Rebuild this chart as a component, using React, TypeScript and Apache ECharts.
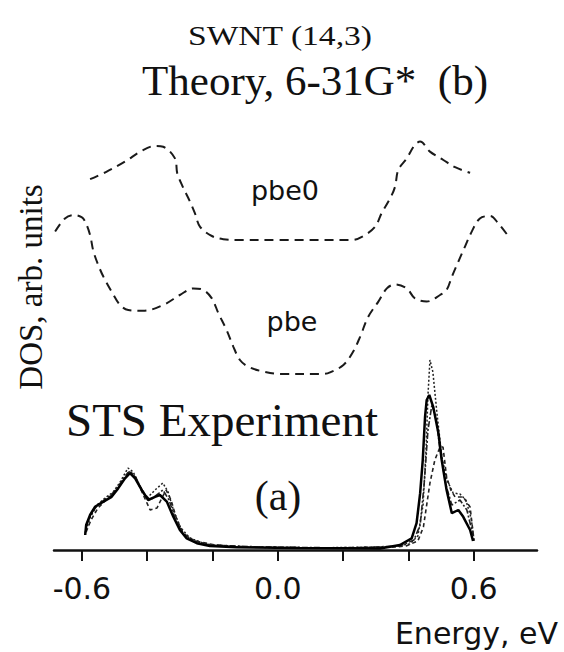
import React, { useEffect, useRef } from "react";
import * as echarts from "echarts";

// ---- Data (energy in eV, DOS in arbitrary units) ----
const xTicks = [-0.6, -0.4, -0.2, 0.0, 0.2, 0.4, 0.6];
const xTickLabels = [-0.6, 0.0, 0.6];

const pbe0Energy = [-0.575, -0.524, -0.468, -0.417, -0.376, -0.351, -0.315, -0.308, -0.291, -0.269, -0.254, -0.238, -0.202, -0.167, -0.116, 0.0, 0.226, 0.262, 0.298, 0.318, 0.344, 0.359, 0.369, 0.395, 0.420, 0.436, 0.466, 0.507, 0.543, 0.589];
const pbe0Dos = [92.7, 94.6, 97.1, 99.8, 101.0, 100.8, 97.9, 94.2, 90.8, 87.1, 84.2, 80.8, 78.5, 77.7, 77.5, 77.5, 77.5, 78.5, 80.8, 84.2, 87.9, 90.8, 95.0, 97.9, 101.3, 102.1, 99.6, 97.5, 95.7, 94.3];

const pbeEnergy = [-0.682, -0.652, -0.626, -0.601, -0.590, -0.575, -0.565, -0.550, -0.534, -0.509, -0.483, -0.458, -0.412, -0.351, -0.300, -0.259, -0.228, -0.202, -0.182, -0.157, -0.136, -0.116, -0.090, -0.044, 0.007, 0.138, 0.160, 0.201, 0.231, 0.252, 0.277, 0.308, 0.334, 0.359, 0.395, 0.420, 0.456, 0.497, 0.517, 0.533, 0.553, 0.573, 0.594, 0.619, 0.650, 0.675, 0.711];
const pbeDos = [79.6, 82.9, 83.75, 83.2, 82.1, 78.75, 74.75, 71.25, 68.3, 64.6, 61.25, 60.0, 59.8, 61.25, 63.75, 65.4, 65.0, 62.9, 59.2, 55.0, 50.8, 47.5, 45.8, 44.6, 44.0, 44.0, 44.4, 46.25, 49.6, 53.3, 58.3, 62.1, 65.4, 66.4, 65.4, 62.9, 62.1, 63.75, 65.0, 68.3, 72.1, 75.8, 79.6, 82.9, 83.5, 81.7, 77.9];

const sts1Energy = [-0.590, -0.587, -0.575, -0.560, -0.534, -0.509, -0.489, -0.468, -0.453, -0.437, -0.417, -0.397, -0.376, -0.361, -0.340, -0.320, -0.300, -0.279, -0.248, -0.208, -0.126, 0.068, 0.313, 0.374, 0.410, 0.425, 0.436, 0.444, 0.451, 0.456, 0.464, 0.476, 0.492, 0.502, 0.517, 0.533, 0.553, 0.568, 0.589, 0.598];
const sts1Dos = [3.75, 6.25, 8.75, 10.8, 12.1, 13.3, 15.4, 17.9, 19.2, 17.9, 15.0, 12.5, 13.3, 13.75, 12.1, 8.3, 5.0, 2.9, 1.7, 1.0, 0.7, 0.5, 0.4, 1.25, 2.9, 6.7, 14.2, 22.5, 33.3, 37.5, 38.75, 35.8, 29.2, 22.5, 15.0, 9.2, 10.0, 8.3, 5.0, 2.25];

const sts2Energy = [-0.587, -0.575, -0.554, -0.529, -0.504, -0.483, -0.459, -0.443, -0.422, -0.400, -0.376, -0.352, -0.336, -0.318, -0.297, -0.269, -0.223, -0.116, 0.068, 0.343, 0.404, 0.429, 0.445, 0.454, 0.460, 0.466, 0.475, 0.488, 0.503, 0.518, 0.537, 0.558, 0.576, 0.592, 0.601];
const sts2Dos = [5.0, 8.0, 11.25, 13.0, 14.5, 17.0, 20.5, 19.5, 16.0, 13.0, 15.0, 16.75, 14.5, 9.5, 5.5, 3.0, 1.5, 0.75, 0.5, 0.75, 1.5, 3.5, 11.25, 25.0, 38.75, 47.5, 44.5, 33.75, 23.0, 17.5, 14.25, 14.0, 12.5, 8.0, 2.5];

const sts3Energy = [-0.587, -0.572, -0.551, -0.526, -0.502, -0.480, -0.456, -0.437, -0.416, -0.391, -0.370, -0.355, -0.342, -0.327, -0.309, -0.288, -0.254, -0.192, -0.085, 0.129, 0.359, 0.393, 0.429, 0.446, 0.466, 0.481, 0.497, 0.506, 0.517, 0.530, 0.543, 0.568, 0.589, 0.601];
const sts3Dos = [4.5, 7.5, 10.5, 12.5, 14.25, 16.5, 19.75, 18.5, 14.5, 10.0, 10.5, 13.0, 15.0, 12.5, 7.5, 4.0, 2.25, 1.25, 0.75, 0.5, 0.75, 1.0, 2.25, 5.75, 16.75, 22.5, 25.75, 25.75, 18.25, 15.0, 13.25, 13.25, 10.75, 2.25];

const sts4Energy = [-0.590, -0.578, -0.557, -0.532, -0.508, -0.486, -0.465, -0.453, -0.434, -0.413, -0.391, -0.367, -0.352, -0.333, -0.315, -0.294, -0.263, -0.208, -0.054, 0.221, 0.374, 0.417, 0.436, 0.448, 0.460, 0.472, 0.485, 0.497, 0.515, 0.533, 0.558, 0.579, 0.598];
const sts4Dos = [4.25, 8.0, 10.75, 12.5, 14.0, 16.25, 18.75, 19.75, 18.0, 14.5, 12.5, 14.0, 15.0, 12.5, 8.0, 4.5, 2.5, 1.25, 0.75, 0.5, 1.0, 2.5, 6.25, 16.25, 30.0, 36.25, 33.0, 25.0, 16.25, 11.25, 12.5, 10.0, 3.75];

const zip = (xs: number[], ys: number[]) => xs.map((x, i) => [x, ys[i]]);

const SERIF = "'Liberation Serif', 'Times New Roman', serif";
const SANS = "'DejaVu Sans', 'Liberation Sans', sans-serif";
const INK = "#111";

export default function App() {
  const ref = useRef<HTMLDivElement>(null);

  useEffect(() => {
    if (!ref.current) return;
    const chart = echarts.init(ref.current, undefined, { renderer: "svg" });

    const theoryStyle = (dash: number[]) => ({
      color: "#1a1a1a",
      width: 2,
      type: dash,
    });

    const label = (
      text: string,
      x: number,
      y: number,
      fontSize: number,
      fontFamily: string,
      extra: Record<string, unknown> = {},
      align = "center"
    ) => ({
      type: "text",
      x,
      y,
      ...extra,
      style: {
        text,
        fontSize,
        fontFamily,
        fill: INK,
        textAlign: align,
        textVerticalAlign: "middle",
      },
    });

    chart.setOption({
      animation: false,
      backgroundColor: "#ffffff",
      grid: {
        left: 54,
        right: 27,
        top: 110,
        bottom: 102,
        containLabel: false,
        outerBoundsMode: "none",
      },
      xAxis: {
        type: "value",
        min: -0.6855,
        max: 0.7939,
        splitLine: { show: false },
        axisLine: { show: true, onZero: false, lineStyle: { color: INK, width: 2.5 } },
        axisTick: {
          show: true,
          customValues: xTicks,
          length: 11,
          inside: false,
          lineStyle: { color: INK, width: 2 },
        },
        axisLabel: {
          show: true,
          customValues: xTickLabels,
          formatter: (v: number) => v.toFixed(1),
          fontSize: 30,
          fontFamily: SANS,
          color: INK,
          margin: 23,
        },
      },
      yAxis: {
        type: "value",
        min: 0,
        max: 110,
        show: false,
        splitLine: { show: false },
      },
      series: [
        {
          name: "pbe0",
          type: "line",
          data: zip(pbe0Energy, pbe0Dos),
          showSymbol: false,
          smooth: 0.35,
          lineStyle: theoryStyle([9, 6]),
        },
        {
          name: "pbe",
          type: "line",
          data: zip(pbeEnergy, pbeDos),
          showSymbol: false,
          smooth: 0.35,
          lineStyle: theoryStyle([9, 6]),
        },
        {
          name: "STS 2",
          type: "line",
          data: zip(sts2Energy, sts2Dos),
          showSymbol: false,
          lineStyle: { color: "#222", width: 1.5, type: [2, 2] },
        },
        {
          name: "STS 3",
          type: "line",
          data: zip(sts3Energy, sts3Dos),
          showSymbol: false,
          lineStyle: { color: "#222", width: 1.6, type: [4, 3] },
        },
        {
          name: "STS 4",
          type: "line",
          data: zip(sts4Energy, sts4Dos),
          showSymbol: false,
          lineStyle: { color: "#222", width: 1.6, type: [6, 2, 2, 2] },
        },
        {
          name: "STS 1",
          type: "line",
          data: zip(sts1Energy, sts1Dos),
          showSymbol: false,
          lineStyle: { color: "#000", width: 2.5, type: "solid" },
        },
      ],
      graphic: [
        label("SWNT (14,3)", 280, 35, 28, SERIF, { scaleX: 1.2 }),
        label("Theory, 6-31G*\u00a0 (b)", 315, 80, 43, SERIF),
        label("pbe0", 285, 190, 27, SANS),
        label("pbe", 292, 321, 27, SANS),
        label("STS Experiment", 222, 420, 47, SERIF),
        label("(a)", 278, 496, 42, SERIF),
        label("DOS, arb. units", 31, 287, 33, SERIF, { rotation: Math.PI / 2 }),
        label("Energy, eV", 558, 633, 30, SANS, {}, "right"),
      ],
    });

    return () => chart.dispose();
  }, []);

  return (
    <div
      ref={ref}
      style={{ position: "fixed", left: 0, top: 0, width: 564, height: 652 }}
    />
  );
}
